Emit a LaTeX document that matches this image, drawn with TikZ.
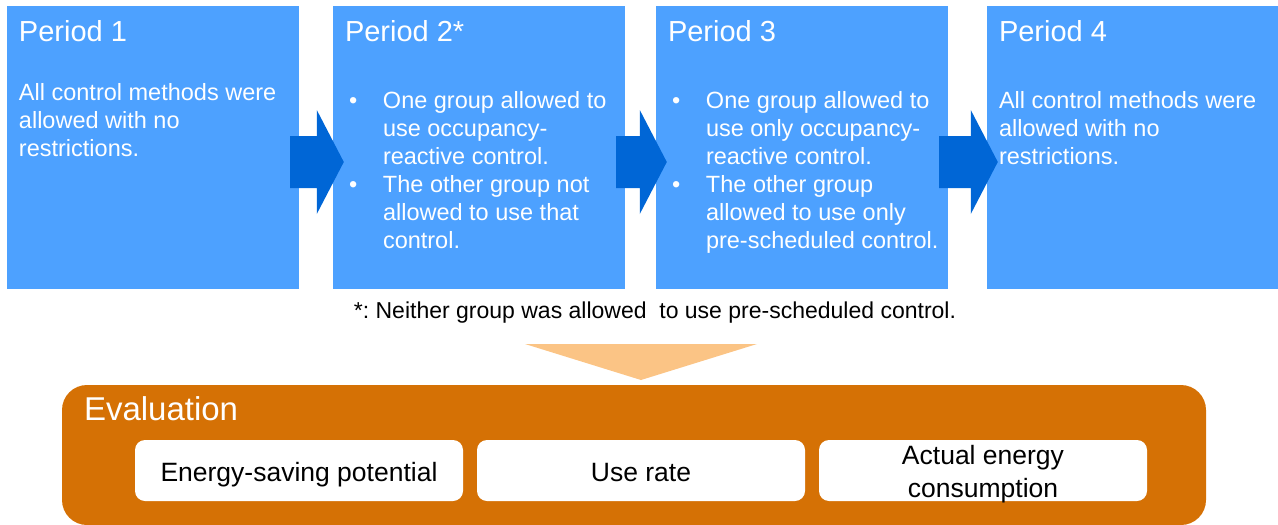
\documentclass[tikz,border=0pt]{standalone}
\usepackage{fontspec}
\setmainfont{Liberation Sans}
\usepackage{xcolor}
\usetikzlibrary{calc,positioning}
\definecolor{perblue}{RGB}{77,161,255}
\definecolor{arrblue}{RGB}{0,102,214}
\definecolor{evalorange}{RGB}{213,113,5}
\definecolor{trilight}{RGB}{251,196,133}
\frenchspacing

\begin{document}
\begin{tikzpicture}[x=1pt,y=-1pt,
    period/.style={fill=perblue, minimum width=292pt, minimum height=283pt, inner sep=0pt},
    ptitle/.style={anchor=base west, text=white, inner sep=0pt, font=\fontsize{29}{34}\selectfont},
    pbody/.style={anchor=north west, text=white, inner sep=0pt, align=left, font=\fontsize{23.5}{28}\selectfont},
    measure/.style={fill=white, rounded corners=10pt, minimum width=328pt, minimum height=61pt, inner sep=0pt},
    mtext/.style={inner sep=0pt, align=center, font=\fontsize{26.5}{33}\selectfont}]
    \useasboundingbox (0,0) rectangle (1278,525);

    % Period boxes
    \node[period] (p1) at (153,147.5) {};
    \node[period] (p2) at (479,147.5) {};
    \node[period] (p3) at (802,147.5) {};
    \node[period] (p4) at (1133,147.5) {};

    % Arrows between periods
    \foreach \a/\b in {p1/p2, p2/p3, p3/p4}
        \fill[arrblue] ($(\a.east)+(-9,-11.5)$) -- ($(\b.west)+(-16,-11.5)$) -- ($(\b.west)+(-16,-37.5)$)
            -- ($(\b.west)+(11,14.5)$) -- ($(\b.west)+(-16,66.5)$) -- ($(\b.west)+(-16,40.5)$)
            -- ($(\a.east)+(-9,40.5)$) -- cycle;

    % Titles
    \node[ptitle] at ($(p1.north west)+(12,36)$) {Period 1};
    \node[ptitle] at ($(p2.north west)+(12,36)$) {Period 2*};
    \node[ptitle] at ($(p3.north west)+(12,36)$) {Period 3};
    \node[ptitle] at ($(p4.north west)+(12,36)$) {Period 4};

    % Contents
    \node[pbody] at ($(p1.north west)+(12,77)$) {All control methods were\\allowed with no\\restrictions.};
    \node[pbody] at ($(p2.north west)+(16,85)$) {\makebox[34pt][l]{\textbullet}One group allowed to\\
        \hspace*{34pt}use occupancy-\\\hspace*{34pt}reactive control.\\
        \makebox[34pt][l]{\textbullet}The other group not\\
        \hspace*{34pt}allowed to use that\\\hspace*{34pt}control.};
    \node[pbody] at ($(p3.north west)+(16,85)$) {\makebox[34pt][l]{\textbullet}One group allowed to\\
        \hspace*{34pt}use only occupancy-\\\hspace*{34pt}reactive control.\\
        \makebox[34pt][l]{\textbullet}The other group\\
        \hspace*{34pt}allowed to use only\\\hspace*{34pt}pre-scheduled control.};
    \node[pbody] at ($(p4.north west)+(12,85)$) {All control methods were\\allowed with no\\restrictions.};

    % Footnote
    \node[anchor=base, inner sep=0pt, font=\fontsize{23}{27}\selectfont] (note) at (655,318) {*: Neither group was allowed\ \ to use pre-scheduled control.};

    % Evaluation
    \node[fill=evalorange, rounded corners=25pt, minimum width=1144pt, minimum height=140pt, inner sep=0pt] (eval) at (634,455) {};
    \fill[trilight] (525,344) -- (757,344) -- (641,380) -- cycle;
    \node[anchor=base west, text=white, inner sep=0pt, font=\fontsize{33}{38}\selectfont] (evtitle) at ($(eval.north west)+(22,36)$) {Evaluation};

    \node[measure] (m1) at (299,470.5) {};
    \node[measure] (m2) at (641,470.5) {};
    \node[measure] (m3) at (983,470.5) {};
    \node[mtext, anchor=base] at ($(m1.center)+(0,11)$) {Energy-saving potential};
    \node[mtext, anchor=base] at ($(m2.center)+(0,11)$) {Use rate};
    \node[mtext] at ($(m3.center)+(0,4)$) {Actual energy\\consumption};
\end{tikzpicture}
\end{document}
